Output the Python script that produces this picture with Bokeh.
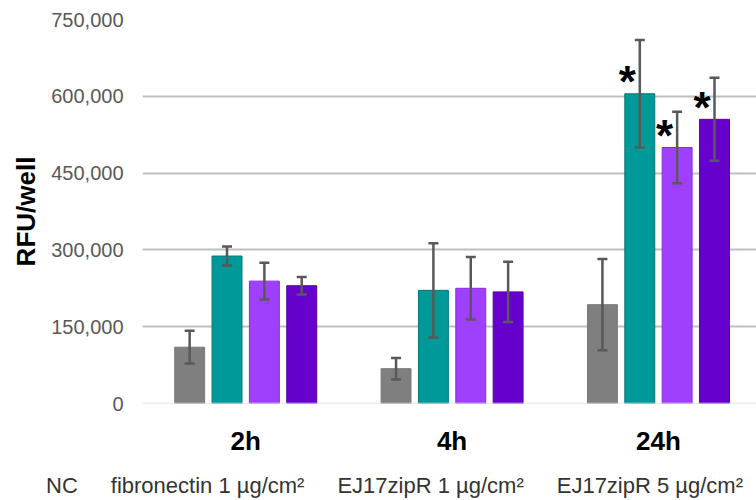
from bokeh.plotting import figure
from bokeh.layouts import column
from bokeh.models import (ColumnDataSource, Range1d, FixedTicker, NumeralTickFormatter,
                          Whisker, TeeHead, Legend, LegendItem, Span, CDSView, IndexFilter)
from bokeh.core.properties import value
from bokeh.embed import file_html
from bokeh.resources import INLINE

# ---- data ----
categories = ["2h", "4h", "24h"]
series_names = ["NC", "fibronectin 1 µg/cm²", "EJ17zipR 1 µg/cm²", "EJ17zipR 5 µg/cm²"]
nc_values = [110000, 68000, 193000]
fib_values = [288000, 221000, 605000]
ej1_values = [239000, 225000, 500000]
ej5_values = [230000, 218000, 555000]
nc_err = [32000, 21000, 89000]
fib_err = [18500, 92000, 105000]
ej1_err = [36000, 61000, 70000]
ej5_err = [17000, 59000, 81000]
nc_star = [False, False, False]
fib_star = [False, False, True]
ej1_star = [False, False, True]
ej5_star = [False, False, True]
y_ticks = [0, 150000, 300000, 450000, 600000, 750000]

values = [nc_values, fib_values, ej1_values, ej5_values]
errors = [nc_err, fib_err, ej1_err, ej5_err]
stars = [nc_star, fib_star, ej1_star, ej5_star]
fills = ["#7F7F7F", "#009999", "#A040FF", "#6600CC"]
lines = ["#7A7A7A", "#007777", "#8A2BE2", "#5500AA"]

FONT = "Liberation Sans"
step = 0.181
bar_w = 0.145

p = figure(width=756, height=470, output_backend="svg", toolbar_location=None,
           x_range=Range1d(-0.5, 2.475), y_range=Range1d(0, 750000),
           min_border_left=142, min_border_right=0, min_border_top=19, min_border_bottom=67)
p.frame_align = False
p.outline_line_color = None
p.background_fill_color = "white"
p.border_fill_color = "white"

sources = []
for i in range(4):
    xs = [k + (i - 1.5) * step for k in range(len(categories))]
    src = ColumnDataSource(dict(
        x=xs, top=values[i],
        upper=[v + e for v, e in zip(values[i], errors[i])],
        lower=[v - e for v, e in zip(values[i], errors[i])],
    ))
    sources.append(src)
    p.vbar(x="x", top="top", width=bar_w, bottom=0, source=src,
           fill_color=fills[i], line_color=lines[i], line_width=1)
    w = Whisker(base="x", upper="upper", lower="lower", source=src,
                line_color="#595959", line_width=2.5, level="annotation",
                upper_head=TeeHead(size=10, line_color="#595959", line_width=2.5),
                lower_head=TeeHead(size=10, line_color="#595959", line_width=2.5))
    p.add_layout(w)
    sx = [x for x, s in zip(xs, stars[i]) if s]
    sy = [v for v, s in zip(values[i], stars[i]) if s]
    if sx:
        p.text(x=sx, y=sy, text=["*"] * len(sx), x_offset=-12.5, y_offset=-12,
               text_align="center", text_baseline="alphabetic",
               text_font=value(FONT), text_font_size="44px", text_font_style="bold",
               text_color="black")

# baseline
p.add_layout(Span(location=0, dimension="width", line_color="#D9D9D9", line_width=1.5))

# axes
p.xaxis.ticker = FixedTicker(ticks=list(range(len(categories))))
p.xaxis.major_label_overrides = {k: c for k, c in enumerate(categories)}
p.xaxis.axis_line_color = None
p.xaxis.major_tick_line_color = None
p.xaxis.minor_tick_line_color = None
p.xaxis.major_tick_out = 0
p.xaxis.major_tick_in = 0
p.xaxis.major_label_standoff = 22
p.xaxis.major_label_text_font = FONT
p.xaxis.major_label_text_font_size = "26px"
p.xaxis.major_label_text_font_style = "bold"
p.xaxis.major_label_text_color = "black"

p.yaxis.ticker = FixedTicker(ticks=y_ticks)
p.yaxis.formatter = NumeralTickFormatter(format="0,0")
p.yaxis.axis_line_color = None
p.yaxis.major_tick_line_color = None
p.yaxis.minor_tick_line_color = None
p.yaxis.major_tick_out = 0
p.yaxis.major_tick_in = 0
p.yaxis.major_label_standoff = 19
p.yaxis.major_label_text_font = FONT
p.yaxis.major_label_text_font_size = "20px"
p.yaxis.major_label_text_color = "#595959"
p.yaxis.axis_label = "RFU/well"
p.yaxis.axis_label_text_font = FONT
p.yaxis.axis_label_text_font_size = "26px"
p.yaxis.axis_label_text_font_style = "bold"
p.yaxis.axis_label_text_color = "black"
p.yaxis.axis_label_standoff = 7

p.xgrid.grid_line_color = None
p.ygrid.ticker = FixedTicker(ticks=y_ticks[1:])
p.ygrid.grid_line_color = "#BFBFBF"
p.ygrid.grid_line_width = 2

# ---- legend strip (separate, unaligned figure; its bars are filtered out of view) ----
q = figure(width=756, height=30, output_backend="svg", toolbar_location=None,
           x_range=Range1d(-0.5, 2.475), y_range=Range1d(-2000000, -1000000),
           x_axis_location=None, y_axis_location=None,
           min_border_left=0, min_border_right=0, min_border_top=0, min_border_bottom=0)
q.frame_align = False
q.outline_line_color = None
q.xgrid.grid_line_color = None
q.ygrid.grid_line_color = None
q.background_fill_color = "white"
q.border_fill_color = "white"
legend_renderers = [q.vbar(x="x", top="top", width=bar_w, bottom=0, source=sources[i],
                           view=CDSView(filter=IndexFilter(indices=[])),
                           fill_color=fills[i], line_color=lines[i], line_width=1)
                    for i in range(4)]
legend = Legend(
    items=[LegendItem(label=series_names[i], renderers=[legend_renderers[i]]) for i in range(4)],
    orientation="horizontal", location=(33, 1),
    glyph_width=10, glyph_height=10, label_standoff=3, spacing=20,
    padding=0, margin=0, border_line_color=None, background_fill_alpha=0,
    label_text_font=FONT, label_text_font_size="22px", label_text_color="#333333",
)
q.add_layout(legend, "center")

open("out.html", "w").write(file_html(column(p, q, spacing=0), INLINE))
